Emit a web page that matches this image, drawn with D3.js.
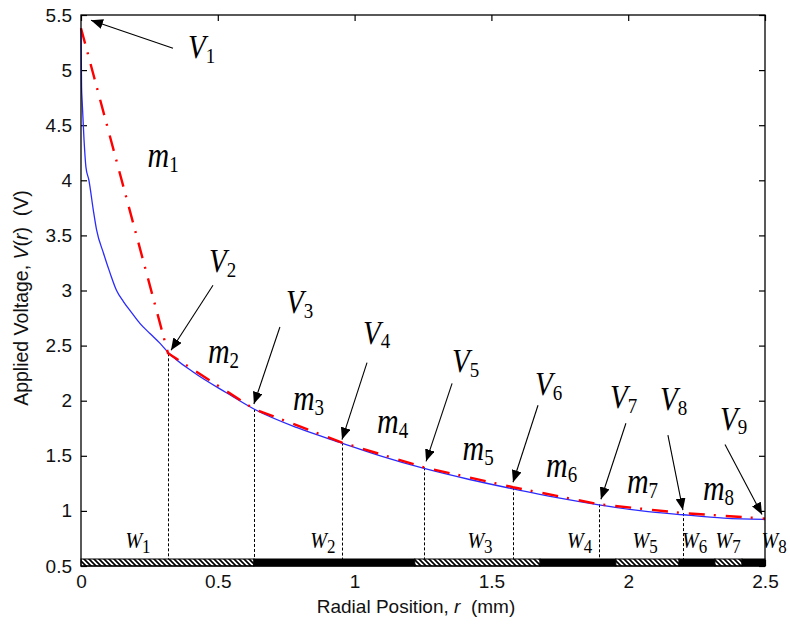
<!DOCTYPE html>
<html>
<head>
<meta charset="utf-8">
<script src="https://cdn.jsdelivr.net/npm/d3@7"></script>
<style>
  html, body { margin: 0; padding: 0; background: #fff; }
  svg { display: block; }
</style>
</head>
<body>
<svg id="chart" width="790" height="626"></svg>
<script>
// ---------- data ----------
// Continuous applied-voltage profile (blue)
const curveR = [0, 0.002, 0.004, 0.011, 0.018, 0.029, 0.045, 0.057, 0.082, 0.106, 0.130, 0.155, 0.185, 0.216, 0.252, 0.289, 0.318, 0.41, 0.533, 0.632, 0.79, 0.954, 1.10, 1.254, 1.42, 1.579, 1.74, 1.893, 2.05, 2.20, 2.35, 2.5];
const curveV = [5.38, 4.85, 4.73, 4.37, 4.12, 4.0, 3.73, 3.55, 3.34, 3.16, 3.0, 2.90, 2.80, 2.70, 2.61, 2.52, 2.44, 2.26, 2.07, 1.925, 1.755, 1.615, 1.495, 1.385, 1.285, 1.20, 1.12, 1.055, 1.00, 0.965, 0.935, 0.922];
// Piecewise-linear approximation nodes (red)
const nodeR = [0, 0.318, 0.632, 0.954, 1.254, 1.579, 1.893, 2.200, 2.500];
const nodeV = [5.38, 2.43, 1.925, 1.62, 1.395, 1.215, 1.06, 0.98, 0.93];
const nodeNames = ["1", "2", "3", "4", "5", "6", "7", "8", "9"];
const slopeNames = ["1", "2", "3", "4", "5", "6", "7", "8"];
// Electrode segment edges along r (bottom bar)
const segEdges = [0, 0.632, 1.22, 1.678, 1.955, 2.186, 2.317, 2.416, 2.5];
const segNames = ["1", "2", "3", "4", "5", "6", "7", "8"];
// Axis ticks
const xTicks = [0, 0.5, 1, 1.5, 2, 2.5];
const yTicks = [0.5, 1, 1.5, 2, 2.5, 3, 3.5, 4, 4.5, 5, 5.5];

// ---------- layout ----------
const svg = d3.select("#chart");
const L = 81, R = 765, T = 15, B = 566;
const x = d3.scaleLinear().domain([0, 2.5]).range([L, R]);
const y = d3.scaleLinear().domain([0.5, 5.5]).range([B, T]);

// annotation offsets (pixels, relative to node point)
const vTipOff  = [[10,-8],[3,-3],[0,-5],[0,-3],[2,-6],[0,-5],[2,-5],[0,-3],[-3,-4]];
const vTailOff = [[92,20],[45,-68],[26,-82],[25,-80],[28,-84],[25,-82],[27,-81],[-15,-78],[-40,-74]];
const vLblOff  = [[107,30],[41,-81],[32,-96],[21,-99],[28,-95],[22,-92],[11,-96],[-23,-103],[-45,-89]];
// slope label offsets (relative to chord midpoint)
const mLblOff = [[23,-24],[-3,-18],[-5,-16],[-6,-22],[-6,-17],[-10,-19],[-14,-16],[-21,-16]];
// segment label offsets (relative to segment centre)
const wLblDx = [-42, -24, -10, -11, -15, -15, -13, 8];

const defs = svg.append("defs");
const pat = defs.append("pattern").attr("id", "hatch")
  .attr("patternUnits", "userSpaceOnUse").attr("width", 5).attr("height", 5);
pat.append("rect").attr("width", 5).attr("height", 5).attr("fill", "#fff");
pat.append("path").attr("d", "M-1,-1 L6,6 M-1,4 L1,6 M4,-1 L6,1")
  .attr("stroke", "#000").attr("stroke-width", 1.7);
defs.append("marker").attr("id", "arr")
  .attr("markerUnits", "userSpaceOnUse")
  .attr("viewBox", "0 0 12 10").attr("refX", 12).attr("refY", 5)
  .attr("markerWidth", 12).attr("markerHeight", 10)
  .attr("orient", "auto")
  .append("path").attr("d", "M0,0 L12,5 L0,10 Z").attr("fill", "#000");

// ---------- axes ----------
const fontSans = "Arial, 'Liberation Sans', sans-serif";
const axL = svg.append("g").attr("transform", `translate(${L},0)`)
  .call(d3.axisLeft(y).tickValues(yTicks).tickSizeInner(-6).tickSizeOuter(0).tickPadding(9)
    .tickFormat(d3.format("")));
const axB = svg.append("g").attr("transform", `translate(0,${B})`)
  .call(d3.axisBottom(x).tickValues(xTicks).tickSizeInner(-6).tickSizeOuter(0).tickPadding(9)
    .tickFormat(d3.format("")));
const axT = svg.append("g").attr("transform", `translate(0,${T})`)
  .call(d3.axisTop(x).tickValues(xTicks).tickSizeInner(-6).tickSizeOuter(0).tickFormat(""));
const axR = svg.append("g").attr("transform", `translate(${R},0)`)
  .call(d3.axisRight(y).tickValues(yTicks).tickSizeInner(-6).tickSizeOuter(0).tickFormat(""));
[axL, axB, axT, axR].forEach(g => {
  g.select(".domain").remove();
  g.selectAll("line").attr("stroke", "#000").attr("stroke-width", 1.2);
  g.selectAll("text").attr("font-family", fontSans).attr("font-size", 19).attr("fill", "#111");
});

// ---------- curves ----------
const plot = svg.append("g");
const blueData = curveR.map((r, i) => [r, curveV[i]]);
const redData = nodeR.map((r, i) => [r, nodeV[i]]);
const line = d3.line().x(d => x(d[0])).y(d => y(d[1]));
const smooth = d3.line().x(d => x(d[0])).y(d => y(d[1])).curve(d3.curveMonotoneX);

// dashed vertical guides from bar to nodes 2..8
const barTop = B - 7;
plot.selectAll("line.guide").data(redData.slice(1, 8)).join("line")
  .attr("x1", d => Math.round(x(d[0])) + 0.5).attr("x2", d => Math.round(x(d[0])) + 0.5)
  .attr("y1", d => y(d[1])).attr("y2", barTop)
  .attr("stroke", "#000").attr("stroke-width", 1).attr("stroke-dasharray", "3,2");

plot.append("path").datum(blueData).attr("d", smooth)
  .attr("fill", "none").attr("stroke", "#2a2aff").attr("stroke-width", 1.3);
plot.append("path").datum(redData).attr("d", line)
  .attr("fill", "none").attr("stroke", "#ff0000").attr("stroke-width", 2.4)
  .attr("stroke-dasharray", "16,9,2,10");

// ---------- bottom electrode bar ----------
const segs = segNames.map((n, i) => ({ a: segEdges[i], b: segEdges[i + 1], hatched: i % 2 === 0, name: n }));
svg.append("g").selectAll("rect").data(segs).join("rect")
  .attr("x", d => x(d.a)).attr("width", d => x(d.b) - x(d.a))
  .attr("y", barTop).attr("height", B - barTop)
  .attr("fill", d => d.hatched ? "url(#hatch)" : "#000")
  .attr("stroke", "#000").attr("stroke-width", 1);

// frame
svg.append("rect").attr("x", L).attr("y", T).attr("width", R - L).attr("height", B - T)
  .attr("fill", "none").attr("stroke", "#000").attr("stroke-width", 1.3);

// ---------- annotations ----------
const serif = "'Liberation Serif', 'Times New Roman', serif";
function subLabel(g, px, py, main, sub, size, subSize, sy) {
  const t = g.append("text")
    .attr("transform", `translate(${px},${py}) scale(1,${sy})`)
    .attr("font-family", serif).attr("fill", "#000");
  t.append("tspan").attr("font-style", "italic").attr("font-size", size).text(main);
  t.append("tspan").attr("font-size", subSize).attr("dy", 4).text(sub);
  return t;
}

const ann = svg.append("g");
redData.forEach((d, i) => {
  const px = x(d[0]), py = y(d[1]);
  ann.append("line")
    .attr("x1", px + vTailOff[i][0]).attr("y1", py + vTailOff[i][1])
    .attr("x2", px + vTipOff[i][0]).attr("y2", py + vTipOff[i][1])
    .attr("stroke", "#000").attr("stroke-width", 1.1)
    .attr("marker-end", "url(#arr)");
  subLabel(ann, px + vLblOff[i][0], py + vLblOff[i][1], "V", nodeNames[i], 29, 19, 1.15);
});

slopeNames.forEach((n, i) => {
  const mx = (x(nodeR[i]) + x(nodeR[i + 1])) / 2;
  const my = (y(nodeV[i]) + y(nodeV[i + 1])) / 2;
  subLabel(ann, mx + mLblOff[i][0], my + mLblOff[i][1], "m", n, 30, 19, 1.2);
});

segs.forEach((s, i) => {
  const cx = (x(s.a) + x(s.b)) / 2;
  subLabel(ann, cx + wLblDx[i], 548, "W", s.name, 20, 17, 1.15);
});

// ---------- axis titles ----------
const xt = svg.append("text").attr("x", 416).attr("y", 613).attr("text-anchor", "middle")
  .attr("font-family", fontSans).attr("font-size", 19).attr("fill", "#111");
xt.append("tspan").text("Radial Position, ");
xt.append("tspan").attr("font-style", "italic").text("r");
xt.append("tspan").text("\u00a0 (mm)");

const yt = svg.append("text").attr("transform", "translate(28,298) rotate(-90)")
  .attr("text-anchor", "middle")
  .attr("font-family", fontSans).attr("font-size", 19.5).attr("fill", "#111");
yt.append("tspan").text("Applied Voltage, ");
yt.append("tspan").attr("font-style", "italic").text("V");
yt.append("tspan").text("(");
yt.append("tspan").attr("font-style", "italic").text("r");
yt.append("tspan").text(")\u00a0 (V)");
</script>
</body>
</html>
